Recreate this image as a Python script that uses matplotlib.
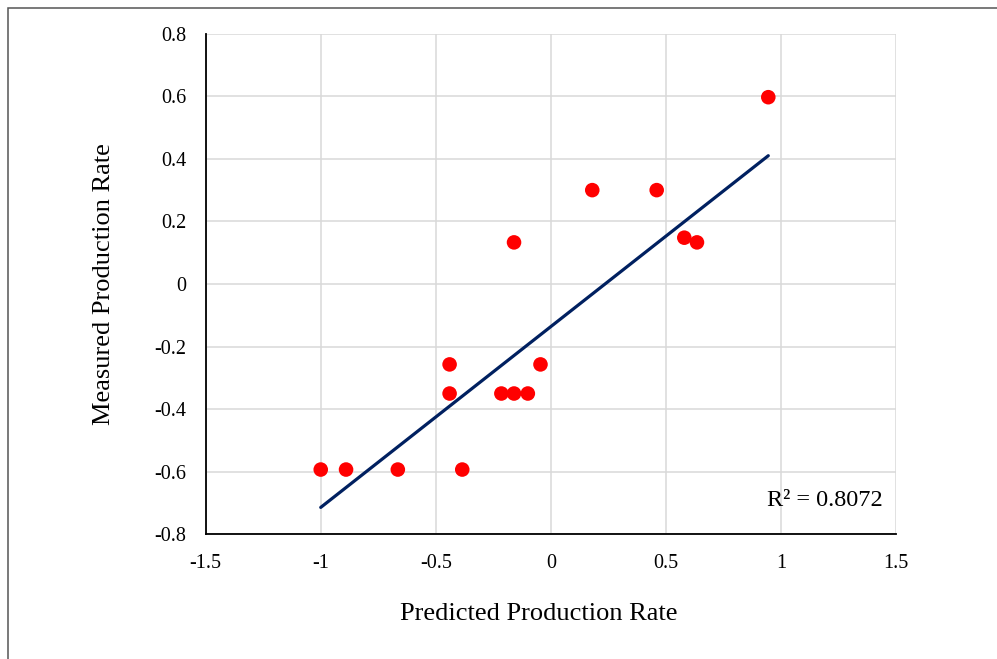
import numpy as np
import matplotlib
matplotlib.use('Agg')
import matplotlib.pyplot as plt
from matplotlib.patches import Rectangle

predicted = [-1.0, -0.89, -0.665, -0.385, -0.44, -0.44, -0.215, -0.16, -0.10,
             -0.045, -0.16, 0.18, 0.46, 0.58, 0.635, 0.945]
measured = [-0.593, -0.593, -0.593, -0.593, -0.257, -0.35, -0.35, -0.35, -0.35,
            -0.257, 0.133, 0.30, 0.30, 0.148, 0.133, 0.597]
# trendline (ends of the linear fit)
trend_x = [-1.0, 0.945]
trend_y = [-0.714, 0.41]
x_ticks = [-1.5, -1, -0.5, 0, 0.5, 1, 1.5]
x_labels = ['-1.5', '-1', '-0.5', '0', '0.5', '1', '1.5']
y_ticks = [-0.8, -0.6, -0.4, -0.2, 0, 0.2, 0.4, 0.6, 0.8]
y_labels = ['-0.8', '-0.6', '-0.4', '-0.2', '0', '0.2', '0.4', '0.6', '0.8']
r2_text = 'R² = 0.8072'

plt.rcParams['font.family'] = ['Liberation Serif', 'DejaVu Serif']

fig = plt.figure(figsize=(9.97, 6.59), dpi=100)
ax = fig.add_axes([0.2063, 0.1892, 0.6924, 0.7597])

ax.plot(trend_x, trend_y, color='#002060', linewidth=2.3,
        solid_capstyle='round', zorder=3)

ax.scatter(predicted, measured, s=110, color='#ff0000', edgecolors='none', zorder=4)

ax.set_xlim(-1.5, 1.5)
ax.set_ylim(-0.8, 0.8)
ax.set_xticks(x_ticks)
ax.set_xticklabels(x_labels)
ax.set_yticks(y_ticks)
ax.set_yticklabels(y_labels)
ax.tick_params(length=0, labelsize=14.5, colors='black')
ax.tick_params(axis='x', pad=14)
ax.tick_params(axis='y', pad=14)

ax.grid(True, color='#d9d9d9', linewidth=1.1)
ax.set_axisbelow(True)
for side in ['top', 'right']:
    ax.spines[side].set_visible(False)
for side in ['left', 'bottom']:
    ax.spines[side].set_color('black')
    ax.spines[side].set_linewidth(1.3)

ax.set_xlabel('Predicted Production Rate', fontsize=19, labelpad=22, x=0.4826)
ax.set_ylabel('Measured Production Rate', fontsize=19, labelpad=28)

ax.text(0.981, 0.0685, r2_text, transform=ax.transAxes, ha='right',
        va='center', fontsize=17.5)

# outer frame, cut off at right and bottom like the original
fig.patches.append(Rectangle((7.5 / 997, -0.1), 1.2, 1.1 - 7.5 / 659,
                             transform=fig.transFigure, fill=False,
                             edgecolor='#555555', linewidth=1.1))

fig.savefig('out.png', dpi=100)
